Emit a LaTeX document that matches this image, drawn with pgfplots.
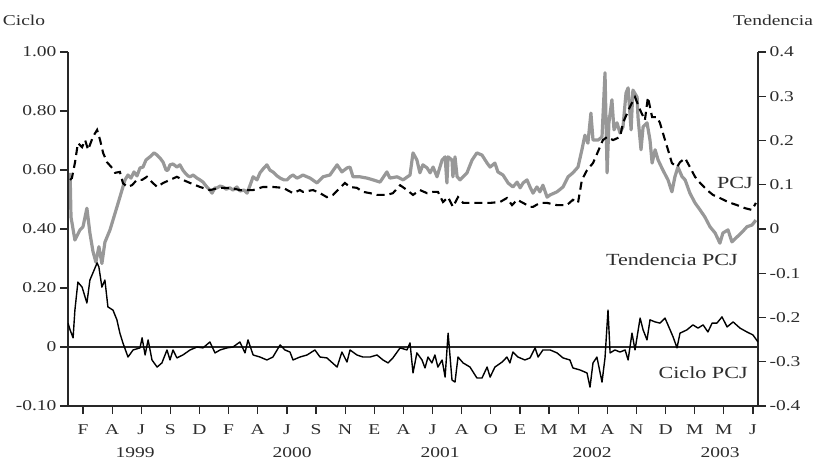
\documentclass[border=0pt]{standalone}
\usepackage{pgfplots}
\pgfplotsset{compat=1.18}
\usepackage{pgfplotstable}
\usepackage{fontspec}
\setmainfont[FakeStretch=1.3]{Liberation Serif}
\definecolor{trendgray}{RGB}{152,152,152}
\definecolor{axgray}{RGB}{40,40,40}
\definecolor{txtgray}{RGB}{45,45,45}

% Tendencia PCJ (right axis)
\pgfplotstableread{
w v
0.7 0.127
1.0 0.027
2.3 -0.025
4.0 -0.002
5.0 0.005
6.3 0.047
7.3 -0.009
8.3 -0.050
9.3 -0.075
10.3 -0.040
11.3 -0.078
12.3 -0.030
14.0 -0.002
15.7 0.036
17.3 0.072
19.0 0.111
20.0 0.122
21.0 0.115
22.0 0.129
23.0 0.120
24.0 0.138
25.0 0.140
26.0 0.156
27.3 0.163
28.7 0.172
29.7 0.167
30.7 0.160
31.7 0.151
32.7 0.133
33.3 0.133
34.0 0.145
35.0 0.147
36.3 0.140
37.3 0.145
38.3 0.133
39.0 0.127
40.0 0.120
40.7 0.118
41.7 0.122
43.0 0.115
44.0 0.111
45.0 0.106
46.3 0.095
47.3 0.088
48.0 0.081
49.0 0.093
49.7 0.093
50.7 0.097
51.7 0.095
52.7 0.090
54.0 0.093
55.0 0.088
56.3 0.095
57.3 0.086
58.7 0.088
59.7 0.081
60.7 0.099
61.7 0.118
63.0 0.111
64.0 0.127
65.3 0.138
66.3 0.145
67.3 0.133
68.3 0.129
69.7 0.120
70.7 0.115
72.0 0.111
73.0 0.111
74.0 0.118
75.0 0.122
76.3 0.115
77.3 0.118
78.3 0.122
80.7 0.115
83.0 0.104
85.0 0.118
87.3 0.122
89.7 0.145
91.3 0.129
93.0 0.138
94.0 0.140
95.0 0.118
97.3 0.118
99.7 0.115
101.7 0.111
104.0 0.106
106.3 0.129
107.3 0.115
109.7 0.118
111.7 0.111
114.0 0.122
115.0 0.172
116.3 0.156
117.3 0.127
118.3 0.145
119.7 0.138
120.7 0.127
121.7 0.140
123.0 0.118
124.7 0.156
125.7 0.163
126.3 0.104
126.7 0.163
128.0 0.156
128.3 0.118
129.0 0.163
129.7 0.118
130.7 0.111
133.0 0.127
134.7 0.156
136.3 0.172
138.0 0.167
139.7 0.149
140.7 0.140
142.3 0.149
143.3 0.129
145.0 0.122
146.7 0.104
148.3 0.095
149.7 0.106
150.7 0.093
151.7 0.104
153.0 0.111
154.0 0.095
155.0 0.081
156.3 0.095
157.3 0.084
158.3 0.099
159.7 0.072
160.7 0.077
163.0 0.084
165.0 0.095
166.7 0.118
168.3 0.127
170.0 0.140
171.3 0.179
172.3 0.212
173.3 0.194
174.3 0.262
175.0 0.201
176.7 0.201
178.0 0.208
179.0 0.353
179.7 0.127
180.3 0.240
181.3 0.292
182.0 0.224
183.0 0.240
184.0 0.217
185.0 0.231
186.0 0.307
186.7 0.319
187.7 0.224
188.3 0.314
189.7 0.298
190.0 0.253
191.0 0.179
191.7 0.231
193.0 0.240
194.0 0.201
194.7 0.149
195.7 0.179
196.7 0.156
198.3 0.133
200.0 0.111
201.3 0.084
202.3 0.118
203.3 0.140
204.7 0.118
205.7 0.111
207.3 0.081
209.0 0.059
210.7 0.043
212.3 0.027
214.0 0.005
215.7 -0.009
217.3 -0.032
218.3 -0.009
220.0 -0.002
221.3 -0.029
223.0 -0.018
224.7 -0.007
226.3 0.005
228.0 0.009
229.3 0.020
}\trend

% PCJ (right axis)
\pgfplotstableread{
w v
0.7 0.111
1.3 0.115
2.3 0.149
3.3 0.194
4.7 0.185
5.7 0.201
6.7 0.179
8.3 0.208
9.7 0.224
10.7 0.201
11.7 0.172
13.0 0.151
14.7 0.138
15.7 0.127
17.3 0.129
18.3 0.104
19.7 0.095
21.3 0.099
23.0 0.111
24.7 0.111
26.3 0.118
28.3 0.104
29.7 0.095
31.7 0.104
34.0 0.111
36.3 0.118
38.3 0.111
40.7 0.104
44.0 0.095
47.3 0.088
50.7 0.093
54.0 0.093
57.3 0.088
61.7 0.088
65.0 0.095
68.3 0.095
71.7 0.093
75.0 0.081
77.3 0.088
78.3 0.084
81.7 0.088
84.0 0.081
86.3 0.072
88.3 0.077
90.7 0.093
92.3 0.104
94.0 0.095
96.3 0.093
98.3 0.084
100.7 0.081
103.0 0.077
106.3 0.077
108.3 0.081
110.7 0.099
113.0 0.088
115.0 0.077
117.3 0.088
119.7 0.081
121.7 0.084
123.3 0.084
125.0 0.061
126.7 0.072
128.3 0.050
130.0 0.072
131.7 0.059
134.0 0.059
137.3 0.059
140.7 0.059
144.0 0.061
146.3 0.070
148.0 0.054
149.7 0.066
151.7 0.059
154.0 0.050
155.0 0.050
157.3 0.059
159.7 0.059
163.0 0.054
166.3 0.054
168.3 0.066
170.0 0.059
171.3 0.111
173.0 0.133
175.0 0.149
177.3 0.185
178.3 0.201
179.7 0.208
181.7 0.201
184.0 0.208
185.0 0.240
187.3 0.276
189.0 0.298
190.7 0.269
192.3 0.246
193.3 0.298
194.7 0.253
196.3 0.253
197.3 0.240
199.0 0.201
200.0 0.179
201.3 0.149
203.0 0.140
204.0 0.151
205.7 0.160
207.3 0.140
209.0 0.118
210.7 0.104
213.0 0.088
215.0 0.077
217.3 0.070
220.0 0.061
223.0 0.054
225.7 0.047
228.0 0.043
229.3 0.059
}\pcj

% Ciclo PCJ (left axis)
\pgfplotstableread{
w c
0.0 0.081
0.7 0.058
1.7 0.031
2.3 0.125
3.3 0.220
4.7 0.203
6.3 0.149
7.3 0.227
8.3 0.251
9.7 0.285
10.3 0.271
11.3 0.203
12.3 0.227
13.3 0.136
15.0 0.125
16.3 0.092
17.3 0.047
18.3 0.014
20.0 -0.034
21.7 -0.010
24.0 -0.003
24.7 0.031
25.7 -0.027
26.7 0.024
28.0 -0.044
29.7 -0.068
31.3 -0.054
33.0 -0.010
34.0 -0.044
35.0 -0.010
36.3 -0.037
38.3 -0.027
40.7 -0.010
43.0 0.000
45.0 -0.003
47.3 0.017
49.0 -0.020
50.7 -0.010
53.0 -0.003
55.0 0.000
57.3 0.017
59.0 -0.020
60.0 0.024
61.7 -0.027
64.0 -0.034
66.3 -0.044
68.3 -0.034
70.7 0.007
72.3 -0.010
74.0 -0.017
75.0 -0.044
77.3 -0.034
79.7 -0.027
82.3 -0.010
84.0 -0.034
86.3 -0.037
89.7 -0.068
91.3 -0.017
93.0 -0.051
94.0 -0.010
96.3 -0.027
98.3 -0.034
100.7 -0.034
103.0 -0.027
105.0 -0.044
106.7 -0.054
108.3 -0.037
110.7 -0.003
113.0 -0.010
114.0 0.014
115.0 -0.088
116.3 -0.020
118.0 -0.044
119.0 -0.071
120.0 -0.034
121.3 -0.054
122.3 -0.027
123.3 -0.068
124.7 -0.044
125.7 -0.102
126.7 0.047
128.0 -0.112
129.0 -0.119
130.0 -0.034
131.7 -0.054
134.0 -0.068
136.3 -0.105
138.0 -0.105
139.7 -0.068
140.7 -0.102
142.3 -0.068
144.7 -0.051
146.3 -0.034
147.3 -0.054
148.3 -0.017
150.0 -0.034
152.3 -0.044
154.0 -0.037
155.7 -0.003
156.7 -0.034
158.3 -0.010
160.7 -0.010
163.0 -0.020
165.0 -0.037
167.3 -0.044
168.3 -0.071
170.7 -0.078
173.0 -0.088
174.0 -0.136
175.0 -0.054
176.3 -0.034
178.0 -0.119
179.0 -0.037
180.0 0.125
180.7 -0.020
182.3 -0.010
184.0 -0.017
185.7 -0.010
186.7 -0.044
188.0 0.047
189.0 -0.010
190.7 0.098
191.7 0.058
193.0 0.024
194.0 0.092
195.7 0.085
197.3 0.081
199.0 0.098
200.7 0.058
201.7 0.034
203.0 -0.003
204.0 0.047
206.3 0.058
208.3 0.075
210.0 0.064
211.7 0.075
213.3 0.051
214.7 0.081
216.3 0.081
218.0 0.102
219.7 0.068
221.7 0.085
224.0 0.064
226.3 0.051
228.3 0.041
230.0 0.017
}\ciclo

\pgfplotsset{
  base/.style={
    width=690pt, height=354pt, scale only axis,
    xmin=0, xmax=230,
    tick align=outside, major tick length=8pt,
    axis line style={-, axgray, line width=1.4pt},
    tick style={axgray, line width=1.2pt},
    ticklabel style={font=\fontsize{15}{17}\selectfont, text=txtgray},
  }
}

\begin{document}
\begin{tikzpicture}
\path[use as bounding box] (-68pt,-54pt) rectangle (750pt,406pt);

% right axis: Tendencia and PCJ
\begin{axis}[base,
  axis x line=none, axis y line*=right,
  xtick=\empty,
  ymin=-0.4, ymax=0.4,
  ytick={-0.4,-0.3,-0.2,-0.1,0,0.1,0.2,0.3,0.4},
  yticklabels={-0.4,-0.3,-0.2,-0.1,0,0.1,0.2,0.3,0.4},
  ytick pos=right, yticklabel pos=right,
]
\addplot[trendgray, line width=3.2pt, line join=round] table[x=w, y=v] {\trend};
\addplot[black, line width=2.1pt, dash pattern=on 8pt off 5pt] table[x=w, y=v] {\pcj};
\node[font=\fontsize{17}{19}\selectfont, text=txtgray] at (axis cs:222.3,0.104) {PCJ};
\node[font=\fontsize{17}{19}\selectfont, text=txtgray] at (axis cs:201.3,-0.070) {Tendencia PCJ};
\node[font=\fontsize{17}{19}\selectfont, text=txtgray] at (axis cs:211.7,-0.325) {Ciclo PCJ};
\end{axis}

% left axis: Ciclo
\begin{axis}[base,
  axis x line*=bottom, axis y line*=left,
  ymin=-0.2, ymax=1.0,
  ytick={-0.2,0,0.2,0.4,0.6,0.8,1.0},
  yticklabels={-0.10,0,0.20,0.40,0.60,0.80,1.00},
  ytick pos=left, xtick pos=bottom,
  xtick={5,14.71,24.42,34.13,43.84,53.55,63.26,72.97,82.68,92.39,102.1,111.81,121.52,131.23,140.94,150.65,160.36,170.07,179.78,189.49,199.2,208.91,218.62,228.33},
  xticklabels={F,A,J,S,D,F,A,J,S,N,E,A,J,A,O,E,M,M,A,N,D,M,M,J},
  xticklabel style={yshift=-7pt},
]
\addplot[axgray, line width=1.2pt] coordinates {(0,0) (230,0)};
\addplot[black, line width=1.4pt, line join=round] table[x=w, y=c] {\ciclo};
\end{axis}

% year labels and axis titles
\begin{scope}[font=\fontsize{15}{17}\selectfont, text=txtgray]
\node at (67pt,-47pt) {1999};
\node at (224pt,-47pt) {2000};
\node at (372pt,-47pt) {2001};
\node at (524pt,-47pt) {2002};
\node at (652pt,-47pt) {2003};
\node at (-44pt,386pt) {Ciclo};
\node at (705pt,386pt) {Tendencia};
\end{scope}
\end{tikzpicture}
\end{document}
